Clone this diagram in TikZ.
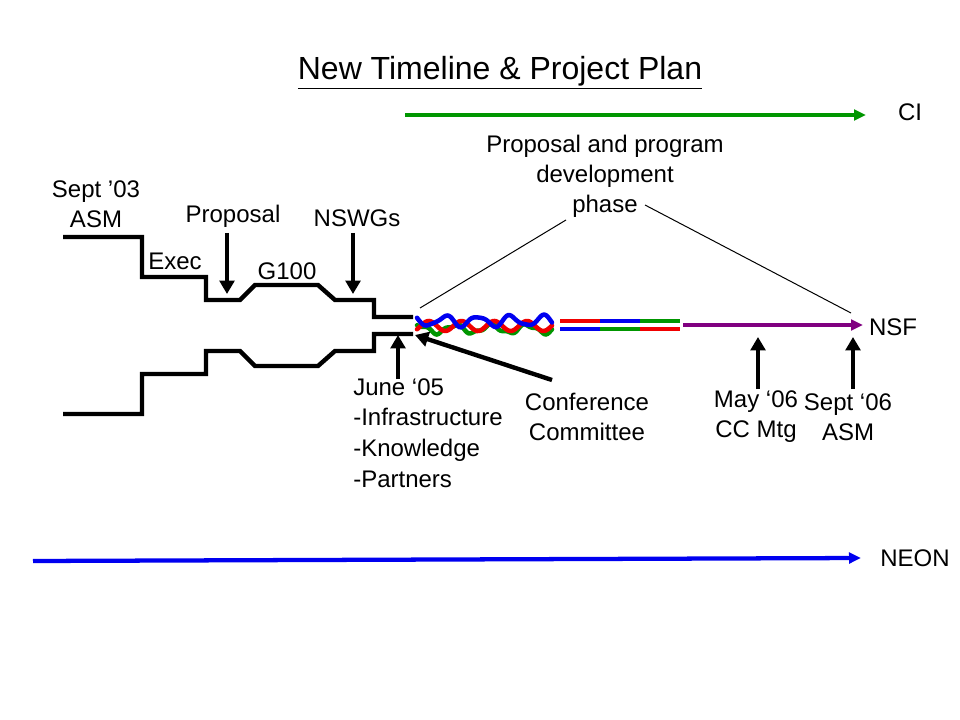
\documentclass[tikz,border=0pt]{standalone}
\usepackage{fontspec}
\setmainfont{Liberation Sans}
\usetikzlibrary{arrows.meta}
\definecolor{pptgreen}{RGB}{0,150,0}
\definecolor{pptblue}{RGB}{0,0,240}
\definecolor{pptred}{RGB}{240,0,0}
\definecolor{pptpurple}{RGB}{128,0,128}
\begin{document}
\begin{tikzpicture}[x=0.75pt, y=-0.75pt,
    lbl/.style={font=\fontsize{18}{22.5}\selectfont, align=center, inner sep=0pt},
    pointer/.style={line width=3.3pt, -{Triangle[length=10pt, width=11pt]}},
    timeline/.style={line width=3.2pt, -{Triangle[length=9pt, width=8pt]}},
    funnel/.style={line width=3.3pt},
    strand/.style={line width=3.4pt, line cap=round}]
    \useasboundingbox (0,0) rectangle (960,720);
    \node [font=\fontsize{24}{28}\selectfont] (title) at (500,73) {\underline{New Timeline \& Project Plan}};
    % CI
    \node [lbl] (ci) at (910,112) {CI};
    \coordinate (ciStart) at (405,115);
    \coordinate (ciEnd) at (866,115);
    \draw [timeline, pptgreen] (ciStart) -- (ciEnd);
    % funnel
    \draw [funnel] (63,237) -- (142,237) -- (142,277) -- (206,277) -- (206,300) -- (240,300)
        -- (255,285) -- (318,285) -- (335,300) -- (374,300) -- (374,317) -- (413,317);
    \draw [funnel] (63,414) -- (142,414) -- (142,374) -- (206,374) -- (206,351) -- (240,351)
        -- (255,366) -- (318,366) -- (335,351) -- (374,351) -- (374,334) -- (413,334);
    \node [lbl] (asm03) at (96,204) {Sept ’03\\ASM};
    \node [lbl] (exec) at (175,261) {Exec};
    \node [lbl] (prop) at (233,216) {Proposal};
    \node [lbl] (g100) at (287,271) {G100};
    \node [lbl] (nswg) at (357,218) {NSWGs};
    \coordinate (propTop) at (227,233);
    \coordinate (propTip) at (227,294);
    \coordinate (nswgTop) at (353,233);
    \coordinate (nswgTip) at (353,294);
    \draw [pointer] (propTop) -- (propTip);
    \draw [pointer] (nswgTop) -- (nswgTip);
    % strands
    \draw [strand, pptgreen] plot [domain=417:552, samples=90] (\x, {329 + 4*sin(10*(\x-417)+250) + 1.5*sin(23*(\x-417))});
    \draw [strand, pptred] plot [domain=417:552, samples=90] (\x, {326 + 5*sin(11*(\x-417)+140)});
    \draw [strand, pptblue] plot [domain=417:552, samples=90] (\x, {321 + 5*sin(11*(\x-417)+320) + 1.5*sin(19*(\x-417))});
    \foreach \top/\bot [count=\i] in {pptred/pptblue, pptblue/pptgreen, pptgreen/pptred} {
        \draw [line width=3.2pt, \top] ({520+40*\i},321) -- ({560+40*\i},321);
        \draw [line width=3.2pt, \bot] ({520+40*\i},329) -- ({560+40*\i},329);
        }
    % NSF
    \node [lbl] (nsf) at (893,327) {NSF};
    \coordinate (nsfStart) at (683,325);
    \coordinate (nsfEnd) at (863,325);
    \draw [timeline, pptpurple] (nsfStart) -- (nsfEnd);
    % phase
    \node [lbl] (phase) at (605,176) {Proposal and program\\development\\phase};
    \coordinate (phaseL) at (566,220);
    \coordinate (funnelEnd) at (420,308);
    \coordinate (phaseR) at (645,205);
    \coordinate (nsfPoint) at (851,313);
    \draw [line width=0.75pt] (phaseL) -- (funnelEnd);
    \draw [line width=0.75pt] (phaseR) -- (nsfPoint);
    % lower labels
    \node [lbl, align=left, anchor=north west, font=\fontsize{18}{23}\selectfont] (june) at (353,378) {June ‘05\\-Infrastructure\\-Knowledge\\-Partners};
    \node [lbl] (conf) at (587,417) {Conference\\Committee};
    \node [lbl] (may) at (756,417) {May ‘06\\CC Mtg};
    \node [lbl] (asm06) at (848,417) {Sept ‘06\\ASM};
    \coordinate (juneTail) at (398,379);
    \coordinate (juneTip) at (398,335);
    \coordinate (confTail) at (552,380);
    \coordinate (confTip) at (415,335);
    \coordinate (mayTail) at (758,389);
    \coordinate (mayTip) at (758,337);
    \coordinate (sepTail) at (853,389);
    \coordinate (sepTip) at (853,337);
    \draw [pointer] (juneTail) -- (juneTip);
    \draw [pointer] (confTail) -- (confTip);
    \draw [pointer] (mayTail) -- (mayTip);
    \draw [pointer] (sepTail) -- (sepTip);
    % NEON
    \node [lbl] (neon) at (915,558) {NEON};
    \coordinate (neonStart) at (33,561);
    \coordinate (neonEnd) at (861,558);
    \draw [timeline, pptblue] (neonStart) -- (neonEnd);
\end{tikzpicture}
\end{document}
